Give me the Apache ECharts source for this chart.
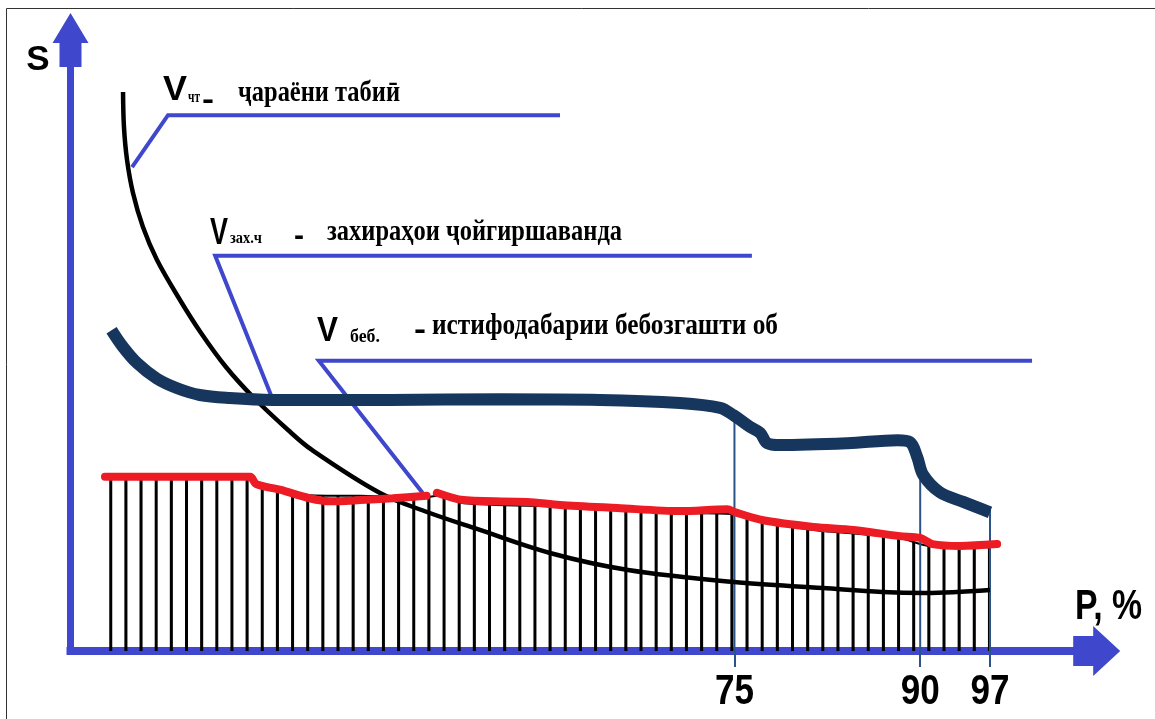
<!DOCTYPE html>
<html>
<head>
<meta charset="utf-8">
<script src="https://cdn.jsdelivr.net/npm/echarts@6/dist/echarts.min.js"></script>
<style>
html,body{margin:0;padding:0;background:#fff;}
#chart{width:1155px;height:719px;}
</style>
</head>
<body>
<div id="chart"></div>
<script>
// Schematic units: x 0..100 along P axis, y 0..100 along S axis
const naturalFlow = [[5.12,91.49],[5.21,85.76],[5.51,80.36],[6.09,74.96],[7.06,69.39],[8.43,63.99],[10.67,57.45],[12.72,52.05],[15.15,46.48],[17.79,41.57],[21.20,36.17],[23.53,32.90],[30.16,25.86],[34.74,22.75],[39.61,19.97],[46.72,16.04],[54.33,13.26],[64.65,11.29],[73.33,10.31],[79.08,9.66],[83.27,9.49],[89.60,9.98]];
const storageReserve = [[4.0,52.5],[5.1,49.8],[6.5,47.1],[8.4,44.6],[10.4,43.0],[12.6,41.9],[15.5,41.4],[19.7,41.1],[31.1,41.1],[41.9,41.2],[51.6,41.1],[59.4,40.6],[63.3,39.8],[64.6,38.6],[66.2,36.7],[67.2,35.7],[67.9,34.0],[69.1,33.7],[75.7,34.0],[80.6,34.5],[81.8,34.2],[82.5,31.8],[83.1,28.8],[84.7,26.0],[87.0,24.4],[89.6,22.7]];
const irrecoverableUse = [[3.36,28.5],[17.5,28.5],[18.1,27.3],[20.4,26.4],[23.3,25.0],[25.3,24.5],[28.2,24.7],[31.4,25.0],[34.7,25.4],null,[35.7,25.9],[38.3,24.7],[44.5,24.4],[47.7,23.9],[53.3,23.4],[59.4,22.9],[64.0,23.2],[64.8,22.7],[67.5,21.4],[72.4,20.3],[76.3,19.8],[80.8,18.8],[82.8,18.5],[84.0,17.5],[86.7,17.2],[90.3,17.5]];
const hatchTop = [[3.55,28.3],[17.5,28.3],[18.1,27.7],[23.3,25.5],[28.2,25.4],[34.7,25.2],[35.7,25.4],[38.3,24.2],[47.7,23.6],[59.4,22.6],[64.7,22.4],[67.5,21.1],[72.4,19.8],[80.8,18.5],[83.6,17.2],[89.6,17.0]];
const pTickPositions = [64.7, 82.8, 89.6];
const pTickLabels = ['75', '90', '97'];
const dropTops = [38.3, 28.3, 23.6];
const leaderNatural = [[6.0,79.2],[9.5,87.7],[47.7,87.7]];
const leaderStorage = [[19.6,41.6],[14.1,64.7],[66.4,64.7]];
const leaderUse = [[34.3,25.9],[24.2,47.5],[93.7,47.5]];
const annotationSymbols = ['V', 'V', 'V'];
const annotationSubs = ['чт', 'зах.ч', 'беб.'];
const annotationTexts = ['ҷараёни табиӣ', 'захираҳои ҷойгиршаванда', 'истифодабарии бебозгашти об'];
const axisNames = ['P, %', 'S'];

const BLUE = '#3f48cc', NAVY = '#17365d', RED = '#ed1c24', DROP = '#2b5289';
const SERIF = '"Liberation Serif", "Times New Roman", serif';
const SANS = '"Liberation Sans", Arial, sans-serif';

const mctx = document.createElement('canvas').getContext('2d');
function measure(text, size, family) {
  mctx.font = 'bold ' + size + 'px ' + family;
  return mctx.measureText(text).width;
}
// text placed by left edge, alphabetic baseline and target width
function placeText(text, family, size, left, baseline, width, midRatio) {
  const w = measure(text, size, family);
  return {
    type: 'text', x: left, y: baseline - midRatio * size, scaleX: width / w, z: 100,
    style: { text: text, fontFamily: family, fontWeight: 'bold', fontSize: size, fill: '#000', align: 'left', verticalAlign: 'middle' }
  };
}
const hatchCanvas = document.createElement('canvas');
hatchCanvas.width = 15; hatchCanvas.height = 20;
(function(){ const g = hatchCanvas.getContext('2d'); g.fillStyle = '#000'; g.fillRect(0, 0, 3, 20); })();

const layoutA = [
  {v:[163,102,24,35], s:[188,103,12,17], d:[203,98,10], t:[238,103,162,30]},
  {v:[210,247,18,37], s:[230,244,32,17], d:[295,234,8], t:[327,242,295,30]},
  {v:[317,343,21,35], s:[350,343,30,18], d:[415,327.5,10], t:[432,336,346,30]}
];
const graphics = [];
layoutA.forEach(function (L, i) {
  graphics.push(placeText(annotationSymbols[i], SANS, L.v[3], L.v[0], L.v[1], L.v[2], 0.3465));
  graphics.push(placeText(annotationSubs[i], SERIF, L.s[3], L.s[0], L.s[1], L.s[2], 0.3375));
  graphics.push(placeText('-', SANS, 30, L.d[0] - 1, L.d[1] + 30 * 0.0985 + 30 * 0.3465, L.d[2] + 2, 0.3465));
  graphics.push(placeText(annotationTexts[i], SERIF, L.t[3], L.t[0], L.t[1], L.t[2], 0.3375));
});
graphics.push(placeText(axisNames[0], SANS, 42, 1075, 622, 67, 0.3465));
graphics.push({ type: 'rect', shape: { x: 6.5, y: 8.5, width: 1160, height: 720 }, style: { fill: 'none', stroke: '#333', lineWidth: 1 }, z: 0, silent: true });

function leader(data) {
  return { type: 'line', data: data, showSymbol: false, smooth: false, z: 4,
    lineStyle: { color: BLUE, width: 4, cap: 'butt', join: 'miter' } };
}
const tickLabelWidth = 39, tickFont = 42;

const chart = echarts.init(document.getElementById('chart'), null, { renderer: 'canvas' });
chart.setOption({
  animation: false,
  grid: { left: 70.5, right: 58.3, top: 40, bottom: 68, containLabel: false, outerBoundsMode: 'none' },
  xAxis: {
    type: 'value', min: 0, max: 100,
    splitLine: { show: false },
    axisLine: { show: true, onZero: false, symbol: ['none', 'path://M25,0 L50,27 L40,27 L40,47 L10,47 L10,27 L0,27 Z'], symbolSize: [50, 47],
      lineStyle: { color: BLUE, width: 8, cap: 'square' } },
    axisTick: { show: true, customValues: pTickPositions, length: 16, lineStyle: { color: DROP, width: 2 } },
    axisLabel: { show: false }
  },
  yAxis: {
    type: 'value', min: 0, max: 100,
    name: axisNames[1], nameLocation: 'end', nameGap: -37.4,
    nameTextStyle: { fontFamily: SANS, fontWeight: 'bold', fontSize: 35, color: '#000', align: 'right', verticalAlign: 'bottom', padding: [0, 21, 0, 0] },
    splitLine: { show: false }, axisTick: { show: false }, axisLabel: { show: false },
    axisLine: { show: true, onZero: false, symbol: ['none', 'path://M18,0 L36,30 L29,30 L29,54 L7,54 L7,30 L0,30 Z'], symbolSize: [36, 54],
      lineStyle: { color: BLUE, width: 7, cap: 'square' } }
  },
  graphic: graphics,
  series: [
    { name: 'hatch', type: 'line', data: hatchTop, showSymbol: false, smooth: 0.25, z: 1,
      lineStyle: { color: '#000', width: 2 },
      areaStyle: { color: { image: hatchCanvas, repeat: 'repeat', x: 109.2, y: 0, scaleX: 1.01, scaleY: 1 }, opacity: 1 } },
    { name: 'P ticks', type: 'custom', clip: false, z: 2,
      data: pTickPositions.map(function (x, i) { return [x, dropTops[i], i]; }),
      renderItem: function (params, api) {
        const a = api.coord([api.value(0), api.value(1)]);
        const b = api.coord([api.value(0), 0]);
        const label = pTickLabels[api.value(2)];
        const w = measure(label, tickFont, SANS);
        const s = tickLabelWidth / w;
        return { type: 'group', children: [
          { type: 'line', shape: { x1: a[0], y1: a[1], x2: b[0], y2: b[1] }, style: { stroke: DROP, lineWidth: 2 } },
          { type: 'text', x: b[0] - tickLabelWidth / 2, y: b[1] + 41, scaleX: s,
            style: { text: label, fontFamily: SANS, fontWeight: 'bold', fontSize: tickFont, fill: '#000', align: 'left', verticalAlign: 'middle' } }
        ] };
      } },
    { name: 'V беб.', type: 'line', data: irrecoverableUse, showSymbol: false, smooth: 0.3, connectNulls: false, z: 5,
      lineStyle: { color: RED, width: 8, cap: 'round' } },
    { name: 'V чт', type: 'line', data: naturalFlow, showSymbol: false, smooth: 0.35, z: 3,
      lineStyle: { color: '#000', width: 4.5 } },
    leader(leaderNatural), leader(leaderStorage), leader(leaderUse),
    { name: 'V зах.ч', type: 'line', data: storageReserve, showSymbol: false, smooth: 0.35, z: 6,
      lineStyle: { color: NAVY, width: 12, cap: 'butt' } }
  ]
});
</script>
</body>
</html>
